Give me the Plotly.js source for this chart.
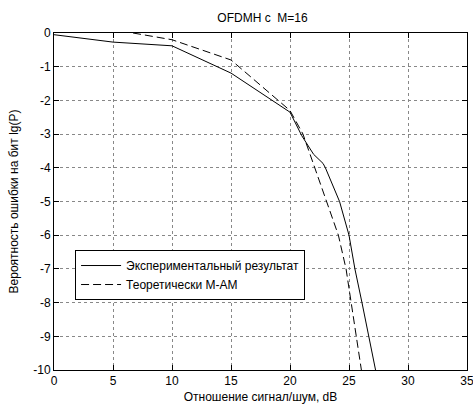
<!DOCTYPE html>
<html>
<head>
<meta charset="utf-8">
<script src="https://cdn.plot.ly/plotly-3.0.1.min.js"></script>
<style>html,body{margin:0;padding:0;background:#fff;}#chart{width:473px;height:405px;}</style>
</head>
<body>
<div id="chart"></div>
<script>
// Experimental result (solid)
const expX = [0, 5, 10, 15, 20, 21, 22, 22.8, 23, 24.2, 25, 25.5, 26.1, 26.7, 27.25];
const expY = [-0.05, -0.27, -0.38, -1.19, -2.35, -3.05, -3.6, -3.87, -4.0, -5.0, -6.0, -7.0, -8.0, -9.0, -10];
// Theoretical M-AM (dashed)
const thX = [6.7, 10, 15, 19, 20, 21.1, 22.1, 23.1, 24.1, 24.75, 25.2, 25.6, 26.05];
const thY = [0, -0.2, -0.8, -2.02, -2.3, -3.0, -4.0, -5.0, -6.0, -7.0, -8.0, -9.0, -10];
const seriesNames = ["Экспериментальный результат", "Теоретически M-AM"];
const xTicks = [0, 5, 10, 15, 20, 25, 30, 35];
const yTicks = [0, -1, -2, -3, -4, -5, -6, -7, -8, -9, -10];
const yTickText = ["0", "-1", "-2", "-3", "-4", "-5", "-6", "-7", "-8", "-9", "-10"];

const traces = [
  {x: expX, y: expY, name: seriesNames[0], mode: 'lines', line: {color: '#000', width: 1}},
  {x: thX, y: thY, name: seriesNames[1], mode: 'lines', line: {color: '#000', width: 1, dash: '8px,4px'}}
];
const font = {family: 'Liberation Sans, Arial, sans-serif', size: 12, color: '#000'};
const axisCommon = {
  showline: true, linecolor: '#000', linewidth: 1, mirror: 'ticks',
  ticks: 'inside', ticklen: 5, tickcolor: '#000',
  showgrid: true, gridcolor: '#888', griddash: 'dot', gridwidth: 1,
  zeroline: false, tickfont: font, ticklabeloverflow: 'allow'
};
const layout = {
  width: 473, height: 405,
  margin: {l: 54, r: 6, t: 33, b: 35},
  paper_bgcolor: '#fff', plot_bgcolor: '#fff',
  font: font,
  title: {text: 'OFDMН с  M=16', font: {family: font.family, size: 12, color: '#000'}, x: 0.555, xanchor: 'center', y: 0.955, yanchor: 'middle'},
  xaxis: Object.assign({}, axisCommon, {
    range: [0, 35], tickvals: xTicks, ticktext: xTicks.map(String),
    title: {text: 'Отношение сигнал/шум, dB', font: font, standoff: 5}
  }),
  yaxis: Object.assign({}, axisCommon, {
    range: [-10, 0], tickvals: yTicks, ticktext: yTickText,
    title: {text: 'Вероятность ошибки на бит lg(P)', font: font, standoff: 12}
  }),
  showlegend: true,
  legend: {x: 0.051, y: 0.356, xanchor: 'left', yanchor: 'top', bgcolor: '#fff', bordercolor: '#000', borderwidth: 1, font: {family: font.family, size: 12, color: '#000'}, tracegroupgap: 0, itemwidth: 40}
};
Plotly.newPlot('chart', traces, layout, {displayModeBar: false, staticPlot: true});
</script>
</body>
</html>
